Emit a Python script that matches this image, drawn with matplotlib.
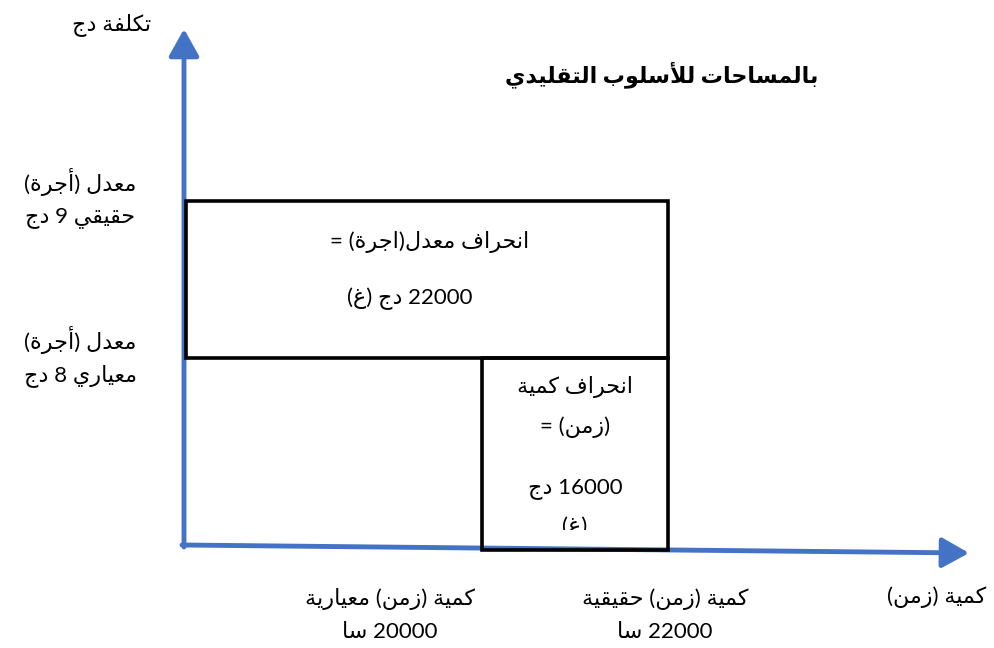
import matplotlib.pyplot as plt
from matplotlib.patches import Rectangle
from matplotlib.transforms import Bbox, TransformedBbox

# values shown on the diagram
std_hours = 20000
act_hours = 22000
std_rate = 8
act_rate = 9
rate_var = 22000
qty_var = 16000

title = "بالمساحات للأسلوب التقليدي"
y_name = "تكلفة دج"
x_name = "كمية (زمن)"
rate_act_lbl = ["معدل (أجرة)", "حقيقي %d دج" % act_rate]
rate_std_lbl = ["معدل (أجرة)", "معياري %d دج" % std_rate]
hrs_std_lbl = ["كمية (زمن) معيارية", "%d سا" % std_hours]
hrs_act_lbl = ["كمية (زمن) حقيقية", "%d سا" % act_hours]
rate_var_lbl = ["انحراف معدل(اجرة) =", "%d دج (غ)" % rate_var]
qty_var_lbl = ["انحراف كمية", "(زمن) =", "%d دج" % qty_var, "(غ)"]

# ---- tiny arabic shaping + rtl reorder (matplotlib has no bidi) ----
FOUR = {'ب': 0xFE8F, 'ت': 0xFE95, 'ث': 0xFE99, 'ج': 0xFE9D, 'ح': 0xFEA1, 'خ': 0xFEA5,
        'س': 0xFEB1, 'ش': 0xFEB5, 'ص': 0xFEB9, 'ض': 0xFEBD, 'ط': 0xFEC1, 'ظ': 0xFEC5,
        'ع': 0xFEC9, 'غ': 0xFECD, 'ف': 0xFED1, 'ق': 0xFED5, 'ك': 0xFED9, 'ل': 0xFEDD,
        'م': 0xFEE1, 'ن': 0xFEE5, 'ه': 0xFEE9, 'ي': 0xFEF1, 'ئ': 0xFE89}
TWO = {'آ': 0xFE81, 'أ': 0xFE83, 'ؤ': 0xFE85, 'إ': 0xFE87, 'ا': 0xFE8D, 'ة': 0xFE93,
       'د': 0xFEA9, 'ذ': 0xFEAB, 'ر': 0xFEAD, 'ز': 0xFEAF, 'و': 0xFEED, 'ى': 0xFEEF}
LAMALEF = {'آ': 0xFEF5, 'أ': 0xFEF7, 'إ': 0xFEF9, 'ا': 0xFEFB}
MIRROR = {'(': ')', ')': '('}


def shape(s):
    out = []
    i = 0
    while i < len(s):
        c = s[i]
        prev = s[i - 1] if i > 0 else ''
        jp = prev in FOUR
        if c == 'ل' and i + 1 < len(s) and s[i + 1] in LAMALEF:
            out.append(chr(LAMALEF[s[i + 1]] + (1 if jp else 0)))
            i += 2
            continue
        nxt = s[i + 1] if i + 1 < len(s) else ''
        if c in FOUR:
            jn = nxt in FOUR or nxt in TWO
            k = {(0, 0): 0, (1, 0): 1, (0, 1): 2, (1, 1): 3}[(int(jp), int(jn))]
            out.append(chr(FOUR[c] + k))
        elif c in TWO:
            out.append(chr(TWO[c] + (1 if jp else 0)))
        else:
            out.append(c)
        i += 1
    return out


def rtl(s):
    chars = shape(s)[::-1]
    res, run = [], []
    for c in chars:
        if c.isdigit():
            run.append(c)
        else:
            res += run[::-1]
            run = []
            res.append(MIRROR.get(c, c))
    res += run[::-1]
    return ''.join(res)


plt.rcParams['font.family'] = ['Lato', 'DejaVu Sans']
blue = '#4472C4'

fig = plt.figure(figsize=(9.95, 6.48), dpi=100)
ax = fig.add_axes([0, 0, 1, 1])
ax.set_xlim(0, 995)
ax.set_ylim(648, 0)
ax.axis('off')

# axes arrows
arr = dict(arrowstyle='-|>,head_length=0.75,head_width=0.42', color=blue, lw=3.5,
           mutation_scale=22, shrinkA=0, shrinkB=0)
ax.annotate('', xy=(184, 29), xytext=(184, 547), arrowprops=arr)
ax.annotate('', xy=(969, 553), xytext=(182, 545), arrowprops=arr)

# variance areas
ax.add_patch(Rectangle((186, 201), 482, 157, fill=False, ec='black', lw=2.6, zorder=3))
ax.add_patch(Rectangle((482, 358), 186, 192, fill=False, ec='black', lw=2.6, zorder=3))

fs = 16
ax.text(112, 25, rtl(y_name), fontsize=fs, ha='center', va='center')
ax.text(662, 75, rtl(title), fontsize=16, fontweight='bold', ha='center', va='center')
for lbl, y0 in [(rate_act_lbl, 182), (rate_std_lbl, 340)]:
    for j, t in enumerate(lbl):
        ax.text(80, y0 + j * 36, rtl(t), fontsize=fs, ha='center', va='center')
for lbl, x0 in [(hrs_std_lbl, 390), (hrs_act_lbl, 665)]:
    for j, t in enumerate(lbl):
        ax.text(x0, 599 + j * 33, rtl(t), fontsize=fs, ha='center', va='center')
ax.text(937, 597, rtl(x_name), fontsize=fs, ha='center', va='center')

ax.text(430, 242, rtl(rate_var_lbl[0]), fontsize=fs, ha='center', va='center')
ax.text(410, 299, rtl(rate_var_lbl[1]), fontsize=fs, ha='center', va='center')

# the last line of the lower box is cut off by the box, like in the original
clipbox = TransformedBbox(Bbox([[482, 358], [668, 530]]), ax.transData)
for t, y in zip(qty_var_lbl, [387, 427, 489, 527]):
    tx = ax.text(575, y, rtl(t), fontsize=fs, ha='center', va='center')
    tx.set_clip_box(clipbox)
    tx.set_clip_on(True)

fig.savefig('out.png', dpi=100)
